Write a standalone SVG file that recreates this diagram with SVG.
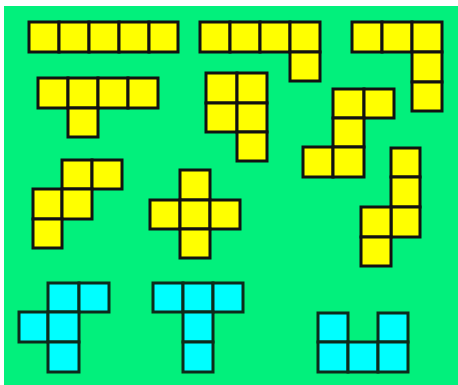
<svg xmlns="http://www.w3.org/2000/svg" width="458" height="385" viewBox="0 0 458 385">
<style>
.y{fill:#FFFF00;stroke:#111;stroke-width:3}
.c{fill:#00FFFF;stroke:#0d2a1a;stroke-width:3}
</style>
<rect x="0" y="0" width="458" height="385" fill="#ffffff"/>
<rect x="4" y="6" width="454" height="379" fill="#02F07C"/>
<g id="p-I" class="y">
<rect x="29" y="22" width="30" height="30"/><rect x="59" y="22" width="30" height="30"/><rect x="89" y="22" width="30" height="30"/><rect x="119" y="22" width="30" height="30"/><rect x="149" y="22" width="29" height="30"/>
</g>
<g id="p-L1" class="y">
<rect x="200" y="22" width="30" height="30"/><rect x="230" y="22" width="30" height="30"/><rect x="260" y="22" width="30" height="30"/><rect x="290" y="22" width="30" height="30"/><rect x="290" y="52" width="30" height="29"/>
</g>
<g id="p-L2" class="y">
<rect x="352" y="22" width="30" height="30"/><rect x="382" y="22" width="30" height="30"/><rect x="412" y="22" width="30" height="30"/><rect x="412" y="52" width="30" height="30"/><rect x="412" y="82" width="30" height="29"/>
</g>
<g id="p-Y" class="y">
<rect x="38" y="78" width="30" height="30"/><rect x="68" y="78" width="30" height="30"/><rect x="98" y="78" width="30" height="30"/><rect x="128" y="78" width="30" height="30"/><rect x="68" y="108" width="30" height="29"/>
</g>
<g id="p-P" class="y">
<rect x="206" y="73" width="31" height="30"/><rect x="237" y="73" width="30" height="30"/><rect x="206" y="103" width="31" height="29"/><rect x="237" y="103" width="30" height="29"/><rect x="237" y="132" width="30" height="29"/>
</g>
<g id="p-Z" class="y">
<rect x="333" y="89" width="31" height="29"/><rect x="364" y="89" width="30" height="29"/><rect x="333" y="118" width="31" height="29"/><rect x="303" y="147" width="30" height="30"/><rect x="333" y="147" width="31" height="30"/>
</g>
<g id="p-W" class="y">
<rect x="62" y="160" width="30" height="29"/><rect x="92" y="160" width="30" height="29"/><rect x="33" y="189" width="29" height="30"/><rect x="62" y="189" width="30" height="30"/><rect x="33" y="219" width="29" height="29"/>
</g>
<g id="p-X" class="y">
<rect x="180" y="170" width="30" height="30"/><rect x="150" y="200" width="30" height="29"/><rect x="180" y="200" width="30" height="29"/><rect x="210" y="200" width="30" height="29"/><rect x="180" y="229" width="30" height="29"/>
</g>
<g id="p-N" class="y">
<rect x="391" y="148" width="29" height="29"/><rect x="391" y="177" width="29" height="30"/><rect x="391" y="207" width="29" height="30"/><rect x="361" y="207" width="30" height="30"/><rect x="361" y="237" width="30" height="29"/>
</g>
<g id="p-F" class="c">
<rect x="48" y="283" width="31" height="29"/><rect x="79" y="283" width="30" height="29"/><rect x="19" y="312" width="29" height="30"/><rect x="48" y="312" width="31" height="30"/><rect x="48" y="342" width="31" height="30"/>
</g>
<g id="p-T" class="c">
<rect x="153" y="283" width="30" height="29"/><rect x="183" y="283" width="30" height="29"/><rect x="213" y="283" width="30" height="29"/><rect x="183" y="312" width="30" height="30"/><rect x="183" y="342" width="30" height="30"/>
</g>
<g id="p-U" class="c">
<rect x="318" y="313" width="30" height="29"/><rect x="378" y="313" width="30" height="29"/><rect x="318" y="342" width="30" height="30"/><rect x="348" y="342" width="30" height="30"/><rect x="378" y="342" width="30" height="30"/>
</g>
<g id="connectors"/>
</svg>
